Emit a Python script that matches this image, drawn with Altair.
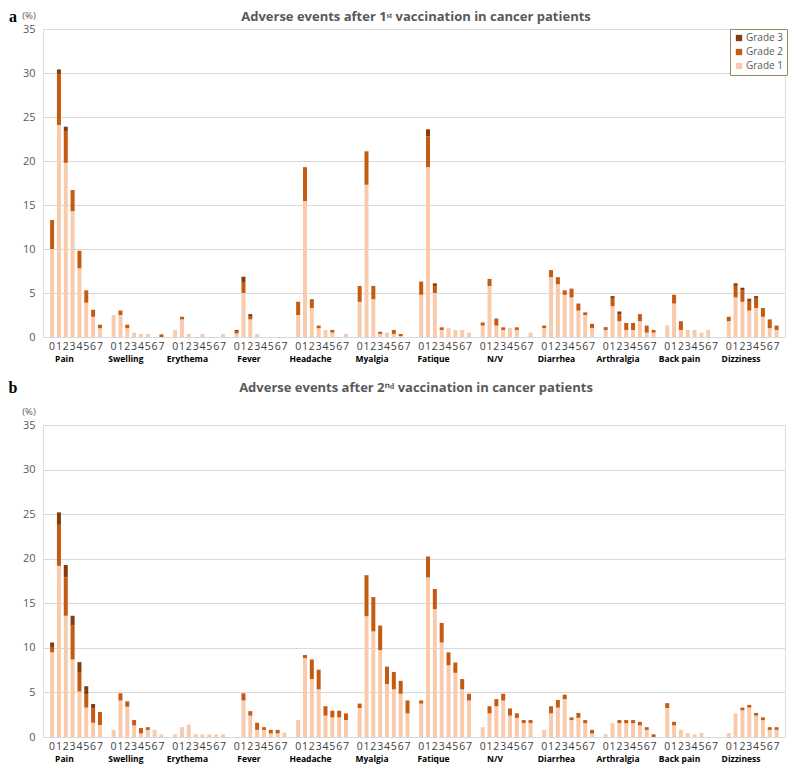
import altair as alt
import pandas as pd

categories = ["Pain", "Swelling", "Erythema", "Fever", "Headache", "Myalgia",
              "Fatique", "N/V", "Diarrhea", "Arthralgia", "Back pain", "Dizziness"]
days = [0, 1, 2, 3, 4, 5, 6, 7]
grades = ["Grade 3", "Grade 2", "Grade 1"]
grade_colors = ["#843C0C", "#C55A11", "#F8CBAD"]

title_a = "Adverse events after 1ˢᵗ vaccination in cancer patients"
title_b = "Adverse events after 2ⁿᵈ vaccination in cancer patients"

# ---- panel a: after 1st vaccination (%), per category, days 0-7 ----
a_grade1 = [
    [10.0, 24.1, 19.8, 14.3, 7.8, 3.9, 2.3, 1.0],
    [2.5, 2.5, 1.0, 0.5, 0.35, 0.35, 0, 0],
    [0.8, 2.0, 0.35, 0, 0.35, 0, 0, 0.35],
    [0.4, 5.0, 2.0, 0.35, 0, 0, 0, 0],
    [2.5, 15.45, 3.3, 1.0, 0.8, 0.5, 0, 0.35],
    [4.0, 17.3, 4.3, 0.35, 0.5, 0.35, 0.1, 0],
    [4.8, 19.3, 5.0, 0.8, 1.0, 0.8, 0.8, 0.5],
    [1.3, 5.8, 1.3, 0.8, 1.0, 0.8, 0, 0.5],
    [1.0, 6.8, 6.0, 4.8, 4.5, 3.0, 2.5, 1.0],
    [0.8, 3.5, 1.8, 0.8, 0.8, 1.8, 0.5, 0.5],
    [1.3, 3.8, 0.8, 0.8, 0.8, 0.5, 0.8, 0],
    [1.8, 4.5, 4.0, 3.0, 3.3, 2.3, 1.0, 0.8],
]
a_grade2 = [
    [3.3, 5.8, 3.6, 2.4, 2.0, 1.4, 0.8, 0.4],
    [0, 0.5, 0.4, 0, 0, 0, 0, 0.3],
    [0, 0.3, 0, 0, 0, 0, 0, 0],
    [0.2, 1.25, 0.3, 0, 0, 0, 0, 0],
    [1.5, 3.85, 1.0, 0.3, 0, 0.3, 0, 0],
    [1.8, 3.8, 1.5, 0.25, 0, 0.45, 0.25, 0],
    [1.5, 3.5, 0.8, 0.3, 0, 0, 0, 0],
    [0.35, 0.8, 0.8, 0.3, 0, 0.3, 0, 0],
    [0.3, 0.8, 0.8, 0.5, 1.0, 0.8, 0.3, 0.5],
    [0.15, 0.85, 0.8, 0.8, 0.8, 0.8, 0.8, 0.3],
    [0, 1.0, 1.0, 0, 0, 0, 0, 0],
    [0.5, 1.3, 1.3, 1.1, 1.05, 1.0, 1.0, 0.5],
]
a_grade3 = [
    [0, 0.5, 0.5, 0, 0, 0, 0, 0],
    [0, 0, 0, 0, 0, 0, 0, 0],
    [0, 0, 0, 0, 0, 0, 0, 0],
    [0.2, 0.6, 0.3, 0, 0, 0, 0, 0],
    [0, 0, 0, 0, 0, 0, 0, 0],
    [0, 0, 0, 0, 0, 0, 0, 0],
    [0, 0.8, 0.3, 0, 0, 0, 0, 0],
    [0, 0, 0, 0, 0, 0, 0, 0],
    [0, 0, 0, 0, 0, 0, 0, 0],
    [0.15, 0.3, 0.3, 0, 0, 0, 0, 0],
    [0, 0, 0, 0, 0, 0, 0, 0],
    [0, 0.3, 0.3, 0.25, 0.3, 0, 0, 0],
]

# ---- panel b: after 2nd vaccination (%) ----
b_grade1 = [
    [9.5, 19.2, 13.6, 8.7, 5.1, 3.3, 1.6, 1.35],
    [0.8, 4.1, 3.4, 1.3, 0.4, 0.8, 0.8, 0.3],
    [0.3, 1.1, 1.4, 0.3, 0.3, 0.3, 0.3, 0.3],
    [0, 4.1, 2.4, 0.8, 0.8, 0.4, 0.4, 0.5],
    [1.9, 8.85, 6.5, 5.35, 2.4, 2.2, 2.2, 1.9],
    [3.25, 13.55, 11.85, 9.75, 5.95, 5.35, 4.85, 2.65],
    [3.75, 17.9, 14.35, 10.6, 8.05, 7.2, 5.35, 4.1],
    [1.1, 2.65, 3.45, 4.1, 2.4, 2.15, 1.55, 1.55],
    [0.8, 2.65, 3.3, 4.25, 1.9, 2.15, 1.55, 0.4],
    [0.3, 1.55, 1.55, 1.55, 1.55, 1.3, 0.8, 0],
    [3.25, 1.3, 0.8, 0.45, 0.3, 0.45, 0, 0],
    [0.45, 2.65, 3.0, 3.3, 2.4, 1.9, 0.8, 0.8],
]
b_grade2 = [
    [0.6, 4.6, 4.3, 3.8, 2.1, 1.5, 1.6, 1.45],
    [0, 0.8, 0.6, 0.6, 0.6, 0.3, 0, 0],
    [0, 0, 0, 0, 0, 0, 0, 0],
    [0, 0.8, 0.5, 0.8, 0.3, 0.4, 0.4, 0],
    [0, 0.35, 2.2, 2.2, 1.05, 0.75, 0.75, 0.75],
    [0.5, 4.6, 3.85, 2.75, 1.95, 1.95, 1.45, 1.45],
    [0.35, 2.35, 2.25, 2.2, 1.45, 1.15, 1.15, 0.75],
    [0, 0.8, 0.8, 0.75, 0.8, 0.5, 0.35, 0.35],
    [0, 0.8, 0.85, 0.5, 0.3, 0.55, 0.35, 0.4],
    [0, 0, 0.35, 0.35, 0.35, 0.4, 0.3, 0.3],
    [0.55, 0.4, 0, 0, 0, 0, 0, 0],
    [0, 0, 0.3, 0.3, 0.3, 0.3, 0.3, 0.3],
]
b_grade3 = [
    [0.5, 1.4, 1.4, 1.1, 1.2, 0.9, 0.5, 0],
    [0, 0, 0, 0, 0, 0, 0, 0],
    [0, 0, 0, 0, 0, 0, 0, 0],
    [0, 0, 0, 0, 0, 0, 0, 0],
    [0, 0, 0, 0, 0, 0, 0, 0],
    [0, 0, 0, 0, 0, 0, 0, 0],
    [0, 0, 0, 0, 0, 0, 0, 0],
    [0, 0, 0, 0, 0, 0, 0, 0],
    [0, 0, 0, 0, 0, 0, 0, 0],
    [0, 0, 0, 0, 0, 0, 0, 0],
    [0, 0, 0, 0, 0, 0, 0, 0],
    [0, 0, 0, 0, 0, 0, 0, 0],
]

W = 742
SLOT = 9


def build_df(g1, g2, g3):
    rows = []
    for ci, cat in enumerate(categories):
        for d in days:
            for gname, arr, o in (("Grade 1", g1, 0), ("Grade 2", g2, 1), ("Grade 3", g3, 2)):
                v = arr[ci][d]
                if v > 0:
                    rows.append(dict(cat=cat, day=d, pos=ci * SLOT + d,
                                     grade=gname, gorder=o, value=v))
    return pd.DataFrame(rows)


day_df = pd.DataFrame([{"pos": ci * SLOT + d, "lab": str(d)}
                       for ci in range(len(categories)) for d in days])
cat_df = pd.DataFrame({"cat": categories,
                       "cpos": [ci * SLOT + 1.8 for ci in range(len(categories))]})

FONT = "Open Sans"
GRAY = "#595959"


def panel(g1, g2, g3, title, letter, H, title_dy, legx, legy):
    df = build_df(g1, g2, g3)
    xscale = alt.Scale(domain=[-0.6, 106.5], nice=False, zero=False)
    bars = alt.Chart(df).mark_bar(size=4).encode(
        x=alt.X("pos:Q", scale=xscale, axis=None),
        y=alt.Y("value:Q", stack="zero",
                scale=alt.Scale(domain=[0, 35], nice=False),
                axis=alt.Axis(values=list(range(0, 36, 5)), title=None, ticks=False,
                              domain=False, gridColor="#d9d9d9", labelColor=GRAY,
                              labelFontSize=11, labelFont=FONT, labelPadding=8)),
        color=alt.Color("grade:N", scale=alt.Scale(domain=grades, range=grade_colors),
                        legend=alt.Legend(orient="none", legendX=legx, legendY=legy,
                                          title=None, strokeColor="#9c8466",
                                          fillColor="white", padding=4,
                                          symbolType="square", symbolSize=40,
                                          symbolStrokeWidth=0, labelFontSize=10,
                                          labelFont=FONT, labelColor=GRAY,
                                          rowPadding=4, labelOffset=2)),
        order=alt.Order("gorder:Q", sort="ascending"),
    )
    daylabs = alt.Chart(day_df).mark_text(fontSize=10.5, font=FONT, color="#404040").encode(
        x=alt.X("pos:Q", scale=xscale),
        y=alt.value(H + 10),
        text="lab:N",
    )
    cats = alt.Chart(cat_df).mark_text(fontWeight="bold", fontSize=8.5, font=FONT,
                                       color="black").encode(
        x=alt.X("cpos:Q", scale=xscale),
        y=alt.value(H + 22),
        text="cat:N",
    )
    ttl = alt.Chart(pd.DataFrame({"t": [title]})).mark_text(
        fontWeight="bold", fontSize=13, font=FONT, color=GRAY).encode(
        x=alt.value(W / 2 + 2), y=alt.value(title_dy), text="t:N")
    let = alt.Chart(pd.DataFrame({"t": [letter]})).mark_text(
        fontWeight="bold", fontSize=16, font="Liberation Serif", color="black").encode(
        x=alt.value(-30), y=alt.value(title_dy), text="t:N")
    pct = alt.Chart(pd.DataFrame({"t": ["(%)"]})).mark_text(
        fontSize=9.5, font=FONT, color=GRAY).encode(
        x=alt.value(-14), y=alt.value(-13), text="t:N")
    return alt.layer(bars, daylabs, cats, ttl, let, pct).properties(width=W, height=H)


pa = panel(a_grade1, a_grade2, a_grade3, title_a, "a", 308, -12, W - 55, 0)
pb = panel(b_grade1, b_grade2, b_grade3, title_b, "b", 312, -37, W - 48, 0)

chart = alt.vconcat(pa, pb, spacing=15).configure_view(stroke=None).configure(
    padding={"left": 0, "top": 0, "right": 0, "bottom": 0})

chart.save("out.html", embed_options={"renderer": "svg", "actions": False})
